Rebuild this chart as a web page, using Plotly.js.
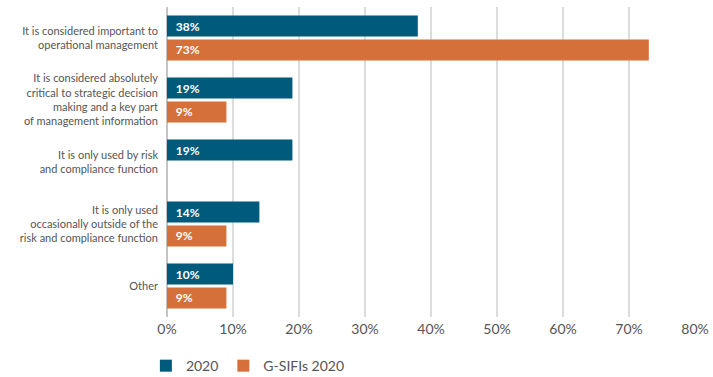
<!DOCTYPE html>
<html>
<head>
<meta charset="utf-8">
<script src="https://cdn.plot.ly/plotly-3.0.1.min.js"></script>
<style>html,body{margin:0;padding:0;background:#fff;}#chart{width:713px;height:377px;}</style>
</head>
<body>
<div id="chart"></div>
<script>
const categories = [
  "It is considered important to<br>operational management",
  "It is considered absolutely<br>critical to strategic decision<br>making and a key part<br>of management information",
  "It is only used by risk<br>and compliance function",
  "It is only used<br>occasionally outside of the<br>risk and compliance function",
  "Other"
];
const series2020 = [38, 19, 19, 14, 10];
const seriesGSIFI = [73, 9, null, 9, 9];
const seriesNames = ["2020", "G-SIFIs 2020"];
const xTickVals = [0, 10, 20, 30, 40, 50, 60, 70, 80];
const xTickText = ["0%", "10%", "20%", "30%", "40%", "50%", "60%", "70%", "80%"];

const FONT = "Lato, 'Open Sans', sans-serif";
const label = v => (v === null ? "" : "\u00a0\u00a0" + v + "%");
const common = {
  type: "bar",
  orientation: "h",
  y: categories,
  textposition: "inside",
  insidetextanchor: "start",
  textfont: {family: FONT, size: 12, color: "#ffffff", weight: "bold"},
  hoverinfo: "skip",
  cliponaxis: false
};
const traces = [
  Object.assign({}, common, {name: seriesNames[0], x: series2020, text: series2020.map(label), marker: {color: "#005a7c"}}),
  Object.assign({}, common, {name: seriesNames[1], x: seriesGSIFI, text: seriesGSIFI.map(label), marker: {color: "#d6703a"}})
];
const layout = {
  width: 713, height: 377,
  margin: {l: 167, r: 18, t: 7, b: 60},
  paper_bgcolor: "#ffffff", plot_bgcolor: "#ffffff",
  font: {family: FONT, color: "#555555"},
  barmode: "group",
  bargap: 0.23,
  bargroupgap: 0.12,
  showlegend: true,
  legend: {orientation: "h", x: -0.04, xanchor: "left", yref: "container", y: 0.029, yanchor: "middle",
           font: {family: FONT, size: 14, color: "#555555"}, traceorder: "normal"},
  xaxis: {range: [0, 80], tickvals: xTickVals, ticktext: xTickText,
          showgrid: true, gridcolor: "#dcdcdc", gridwidth: 1.3,
          zeroline: true, zerolinecolor: "#c4c4c4", zerolinewidth: 2,
          showline: false, ticks: "", ticklabelstandoff: 2, fixedrange: true,
          tickfont: {family: FONT, size: 14, color: "#555555"}},
  yaxis: {autorange: "reversed", showgrid: false, zeroline: false, showline: false,
          ticks: "", ticklabelstandoff: 8, fixedrange: true,
          tickfont: {family: FONT, size: 11, color: "#555555"}}
};
Plotly.newPlot("chart", traces, layout, {displayModeBar: false, staticPlot: true});
</script>
</body>
</html>
